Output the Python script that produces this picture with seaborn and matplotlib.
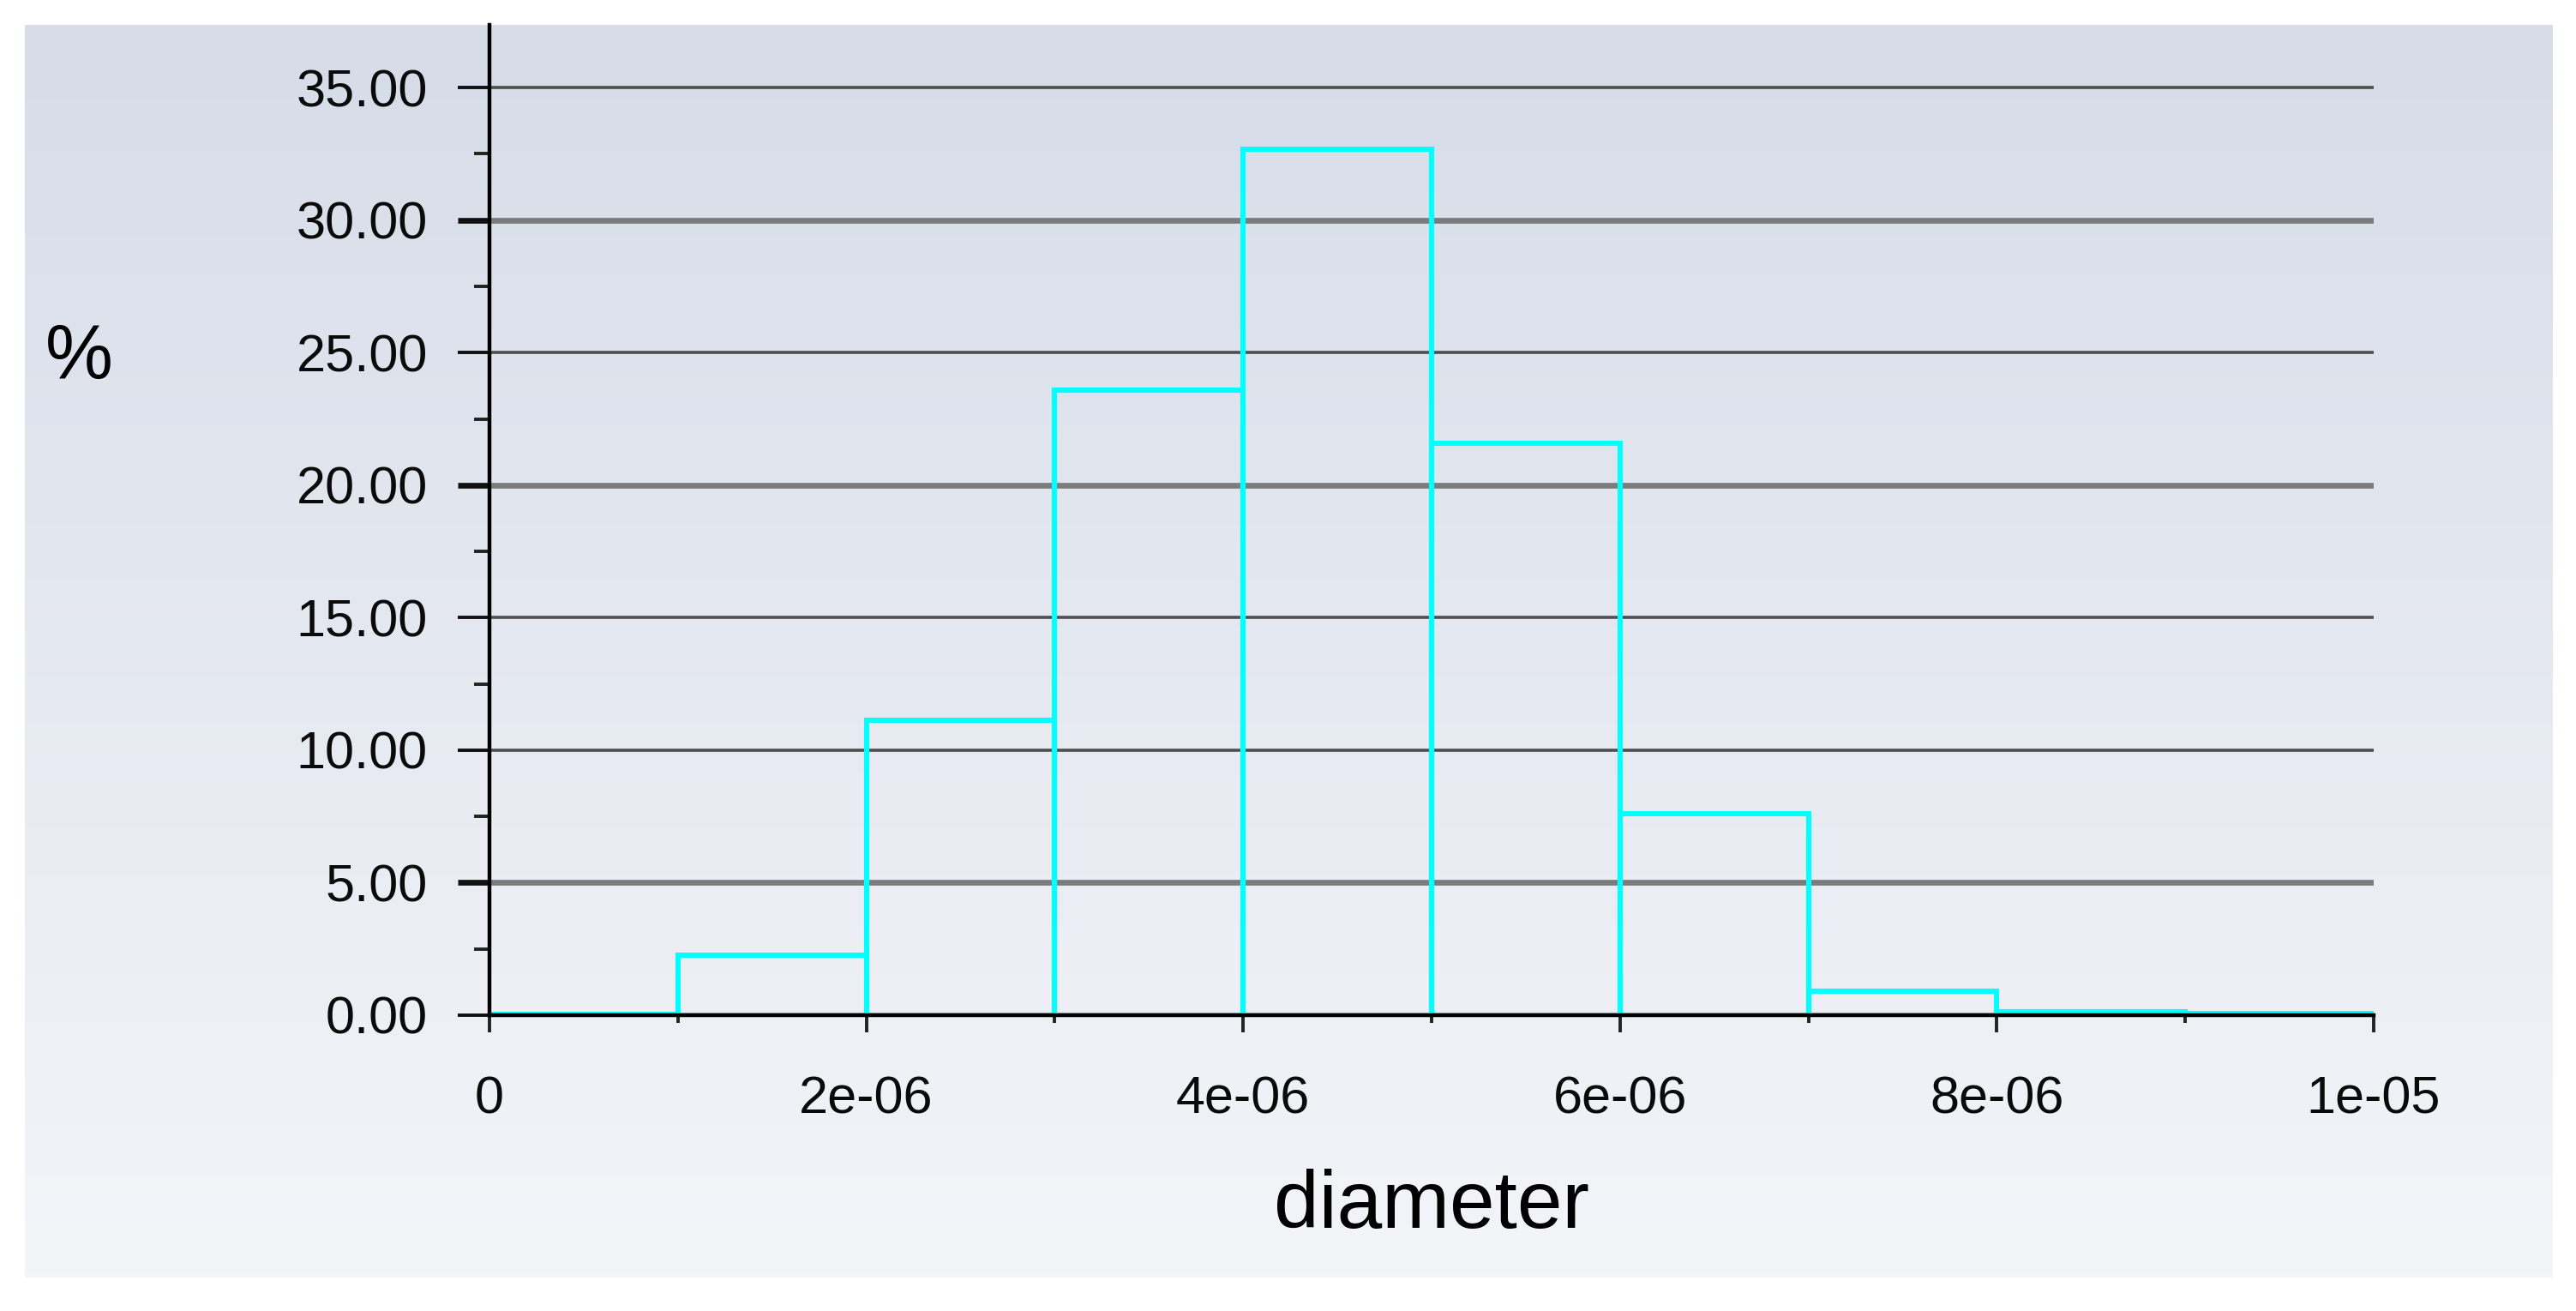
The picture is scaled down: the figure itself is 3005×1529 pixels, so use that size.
import numpy as np
import matplotlib
matplotlib.use("Agg")
import matplotlib.pyplot as plt
import seaborn as sns
from matplotlib.colors import LinearSegmentedColormap
from matplotlib.ticker import FixedLocator, FixedFormatter, FormatStrFormatter

# ---- data ----
bin_edges = [0, 1e-6, 2e-6, 3e-6, 4e-6, 5e-6, 6e-6, 7e-6, 8e-6, 9e-6, 1e-5]
percent = [0.03, 2.26, 11.13, 23.58, 32.68, 21.58, 7.60, 0.91, 0.12, 0.05]
x_ticks = [0, 2e-6, 4e-6, 6e-6, 8e-6, 1e-5]
x_tick_labels = ["0", "2e-06", "4e-06", "6e-06", "8e-06", "1e-05"]
x_minor = [1e-6, 3e-6, 5e-6, 7e-6, 9e-6]
y_ticks = [0, 5, 10, 15, 20, 25, 30, 35]
y_minor = [2.5, 7.5, 12.5, 17.5, 22.5, 27.5, 32.5]
heavy_grid = [5, 20, 30]
bin_centers = [(a + b) / 2 for a, b in zip(bin_edges[:-1], bin_edges[1:])]

plt.rcParams['font.family'] = ['Liberation Sans', 'DejaVu Sans']

W, H = 3005, 1529
fig = plt.figure(figsize=(W / 100, H / 100), dpi=100, facecolor="white")

# gradient panel background
px0, px1, py0, py1 = 29, 2978, 29, 1490
bg = fig.add_axes([px0 / W, (H - py1) / H, (px1 - px0) / W, (py1 - py0) / H], zorder=-5)
cmap = LinearSegmentedColormap.from_list("bgc", ["#d6dce8", "#f4f5f9"])
grad = np.linspace(0, 1, 256).reshape(-1, 1)
bg.imshow(grad, aspect="auto", cmap=cmap, extent=[0, 1, 0, 1], origin="upper")
bg.axis("off")

# main axes
ax_l, ax_r, ax_b, ax_t = 571, 2769, 1184, 29
ax = fig.add_axes([ax_l / W, (H - ax_b) / H, (ax_r - ax_l) / W, (ax_b - ax_t) / H])
ax.set_facecolor("none")

sns.histplot(x=bin_centers, weights=percent, bins=bin_edges, element="bars",
             fill=False, color="#00FFFF", linewidth=4.4, ax=ax, zorder=3)

ax.set_xlim(0, 1e-5)
ax.set_ylim(0, (ax_b - ax_t) / 30.91)

ax.xaxis.set_major_locator(FixedLocator(x_ticks))
ax.xaxis.set_major_formatter(FixedFormatter(x_tick_labels))
ax.xaxis.set_minor_locator(FixedLocator(x_minor))
ax.yaxis.set_major_locator(FixedLocator(y_ticks))
ax.yaxis.set_major_formatter(FormatStrFormatter("%.2f"))
ax.yaxis.set_minor_locator(FixedLocator(y_minor))

for s in ["top", "right"]:
    ax.spines[s].set_visible(False)
for s in ["left", "bottom"]:
    ax.spines[s].set_color("black")
    ax.spines[s].set_linewidth(3.2)
    ax.spines[s].set_zorder(4)

ax.tick_params(axis="x", which="major", direction="out", length=14.5, width=2.8,
               color="#222222", labelsize=44, pad=36, labelcolor="#0a0a0a")
ax.tick_params(axis="x", which="minor", direction="out", length=6.5, width=2.8,
               color="#222222")
ax.tick_params(axis="y", which="major", direction="out", length=27, width=2.8,
               color="#111111", labelsize=44, pad=25, labelcolor="#0a0a0a")
ax.tick_params(axis="y", which="minor", direction="out", length=13, width=2.8,
               color="#222222")

ax.set_axisbelow(True)
ax.yaxis.grid(True, which="major", color="#4e4e4e", linewidth=2.6)
ax.xaxis.grid(False)
for val, gl, tk in zip(y_ticks, ax.get_ygridlines(), ax.yaxis.get_major_ticks()):
    if val in heavy_grid:
        gl.set_linewidth(4.8)
        gl.set_color("#7b7b7b")
        tk.tick1line.set_markeredgewidth(4.8)
        tk.tick1line.set_color("#4a4a4a")

ax.set_xlabel("diameter", fontsize=68, color="#000000", va="baseline")
ax.xaxis.set_label_coords(0.5, (ax_b - 1432) / (ax_b - ax_t))
ax.set_ylabel("%", fontsize=64, color="#000000", rotation=0, va="center", ha="center")
ax.yaxis.set_label_coords((92 - ax_l) / (ax_r - ax_l), (ax_b - 418) / (ax_b - ax_t))

fig.savefig("out.png", dpi=100, facecolor="white")
